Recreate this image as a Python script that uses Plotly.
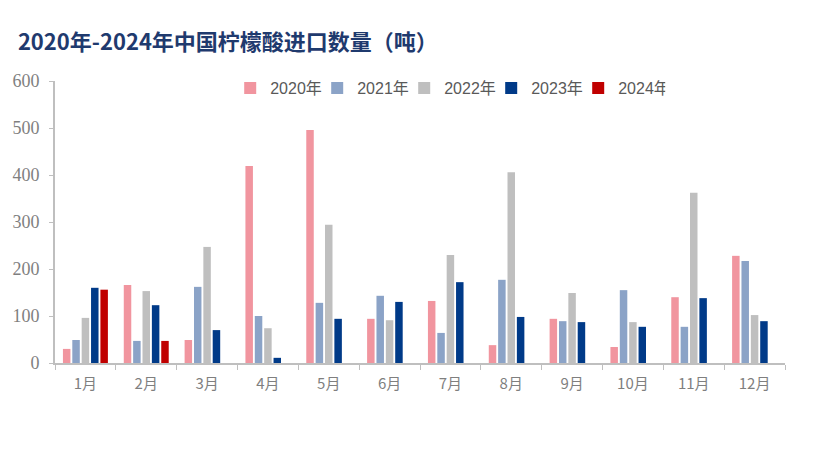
import plotly.graph_objects as go

months = ["1月", "2月", "3月", "4月", "5月", "6月", "7月", "8月", "9月", "10月", "11月", "12月"]
y2020 = [30, 166, 49, 419, 496, 94, 132, 38, 94, 34, 140, 228]
y2021 = [49, 47, 162, 100, 128, 143, 64, 177, 89, 155, 77, 217]
y2022 = [96, 153, 247, 74, 294, 91, 230, 406, 149, 87, 362, 102]
y2023 = [160, 123, 70, 11, 94, 130, 172, 98, 87, 77, 138, 89]
y2024 = [156, 47]
names = ["2020年", "2021年", "2022年", "2023年", "2024年"]
colors = ["#F1959F", "#8BA3C7", "#BFBFBF", "#003A88", "#C00000"]

fig = go.Figure()
series = [y2020, y2021, y2022, y2023, y2024]
for name, vals, col in zip(names, series, colors):
    fig.add_trace(go.Bar(x=months[:len(vals)], y=vals, name=name, marker_color=col,
                         marker_line_width=0))

fig.update_layout(
    width=813, height=457,
    paper_bgcolor="white", plot_bgcolor="white",
    margin=dict(l=51, r=28, t=81, b=94),
    barmode="group", bargap=0.23, bargroupgap=0.2,
    title=dict(text="<b>2020年-2024年中国柠檬酸进口数量（吨）</b>",
               x=0.022, xanchor="left", y=0.908, yanchor="middle",
               font=dict(family="Noto Sans CJK SC", size=22, color="#1F3A6E")),
    legend=dict(orientation="h", x=0.24, xanchor="left", y=0.975, yanchor="middle",
                font=dict(family="Liberation Sans, Noto Sans CJK SC", size=16, color="#595959"),
                itemwidth=30, traceorder="normal", entrywidth=42, entrywidthmode="pixels"),
    xaxis=dict(type="category", categoryorder="array", categoryarray=months,
               showline=True, linecolor="#BFBFBF", linewidth=2,
               ticks="outside", tickson="boundaries", ticklen=5, tickcolor="#BFBFBF",
               tickfont=dict(family="Noto Sans CJK SC", size=15, color="#7F7F7F"),
               ticklabelstandoff=6, showgrid=False),
    yaxis=dict(range=[0, 600], dtick=100, showline=True, linecolor="#BFBFBF", linewidth=2,
               ticks="outside", ticklen=4, tickcolor="#BFBFBF",
               tickfont=dict(family="Liberation Serif", size=18, color="#7F7F7F"),
               ticklabelstandoff=6, showgrid=False, zeroline=False),
)
fig.write_html("out.html")
